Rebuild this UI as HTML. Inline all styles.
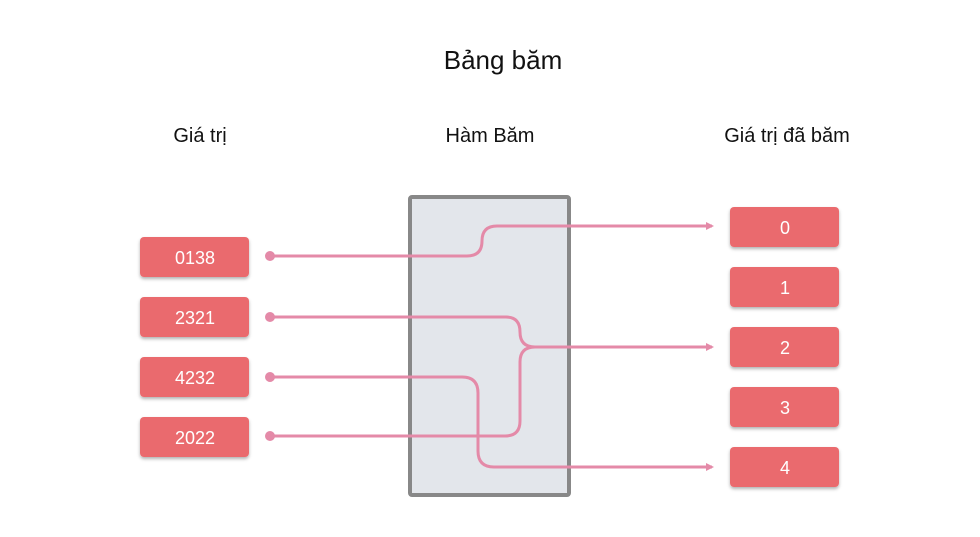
<!DOCTYPE html>
<html><head><meta charset="utf-8"><style>
html,body{margin:0;padding:0;background:#fff;}
svg{display:block;}
text{font-family:"Liberation Sans",sans-serif;}
</style></head><body>
<svg width="980" height="537" viewBox="0 0 980 537" xmlns="http://www.w3.org/2000/svg">
<defs>
<filter id="sh" x="-20%" y="-20%" width="140%" height="160%"><feDropShadow dx="0" dy="2" stdDeviation="1.5" flood-color="#000" flood-opacity="0.3"/></filter>
<marker id="ar" markerWidth="8" markerHeight="8" refX="6" refY="4" orient="auto" markerUnits="userSpaceOnUse"><path d="M0,0 L8,4 L0,8 z" fill="#e48aa8"/></marker>
</defs>
<text x="503" y="69" font-size="26" text-anchor="middle" fill="#111">Bảng băm</text>
<text x="200" y="142" font-size="20" text-anchor="middle" fill="#111">Giá trị</text>
<text x="490" y="142" font-size="20" text-anchor="middle" fill="#111">Hàm Băm</text>
<text x="787" y="142" font-size="20" text-anchor="middle" fill="#111">Giá trị đã băm</text>
<rect x="410" y="197" width="159" height="298" fill="#e3e6eb" stroke="#888" stroke-width="4" rx="2"/>
<g fill="#ea6b6e" filter="url(#sh)">
<rect x="140" y="237" width="109" height="40" rx="4"/>
<rect x="140" y="297" width="109" height="40" rx="4"/>
<rect x="140" y="357" width="109" height="40" rx="4"/>
<rect x="140" y="417" width="109" height="40" rx="4"/>
<rect x="730" y="207" width="109" height="40" rx="4"/>
<rect x="730" y="267" width="109" height="40" rx="4"/>
<rect x="730" y="327" width="109" height="40" rx="4"/>
<rect x="730" y="387" width="109" height="40" rx="4"/>
<rect x="730" y="447" width="109" height="40" rx="4"/>
</g>
<g fill="#fff" font-size="18" text-anchor="middle">
<text x="195" y="264">0138</text>
<text x="195" y="324">2321</text>
<text x="195" y="384">4232</text>
<text x="195" y="444">2022</text>
<text x="785" y="234">0</text>
<text x="785" y="294">1</text>
<text x="785" y="354">2</text>
<text x="785" y="414">3</text>
<text x="785" y="474">4</text>
</g>
<g fill="none" stroke="#e48aa8" stroke-width="3">
<path d="M270 256 H467 Q482 256 482 241 Q482 226 497 226 H712" marker-end="url(#ar)"/>
<path d="M270 317 H506 Q520 317 520 332 Q520 347 535 347 H712" marker-end="url(#ar)"/>
<path d="M270 436 H505 Q520 436 520 421 V362 Q520 347 535 347"/>
<path d="M270 377 H462 Q478 377 478 393 V451 Q478 467 494 467 H712" marker-end="url(#ar)"/>
</g>
<g fill="#e48aa8">
<circle cx="270" cy="256" r="5"/><circle cx="270" cy="317" r="5"/><circle cx="270" cy="377" r="5"/><circle cx="270" cy="436" r="5"/>
</g>
</svg>
</body></html>
